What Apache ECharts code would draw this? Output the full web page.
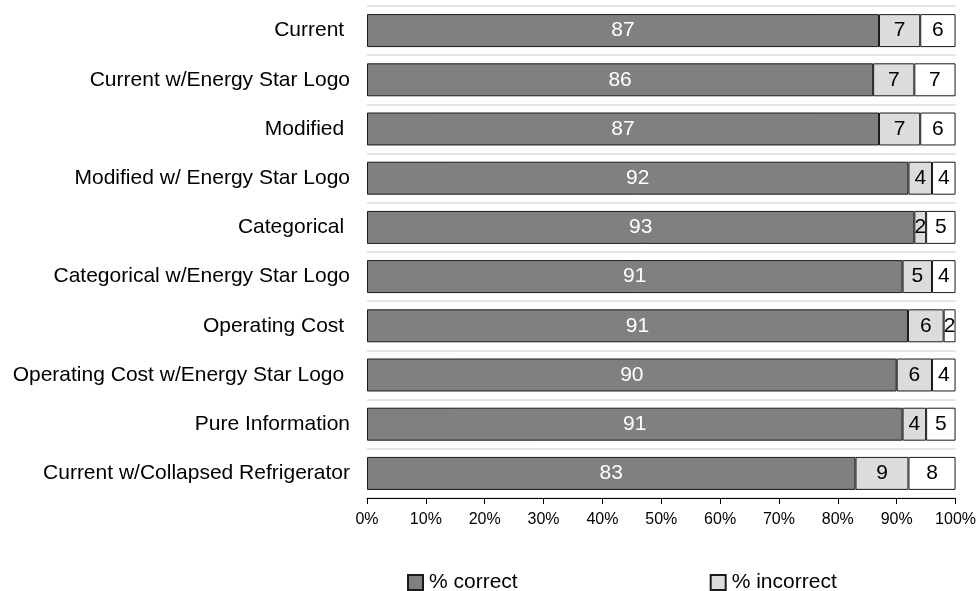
<!DOCTYPE html>
<html>
<head>
<meta charset="utf-8">
<script src="https://cdn.jsdelivr.net/npm/echarts@6/dist/echarts.min.js"></script>
<style>html,body{margin:0;padding:0;background:#fff}#c{width:979px;height:591px}</style>
</head>
<body>
<div id="c"></div>
<script>
var categories = ["Current ", "Current w/Energy Star Logo", "Modified ", "Modified w/ Energy Star Logo", "Categorical ", "Categorical w/Energy Star Logo", "Operating Cost ", "Operating Cost w/Energy Star Logo ", "Pure Information", "Current w/Collapsed Refrigerator"];
var correct   = [87, 86, 87, 92, 93, 91, 91, 90, 91, 83];
var incorrect = [7, 7, 7, 4, 2, 5, 6, 6, 4, 9];
var other     = [6, 7, 6, 4, 5, 4, 2, 4, 5, 8];
var xTicks = [0, 10, 20, 30, 40, 50, 60, 70, 80, 90, 100];

var FONT = "Liberation Sans, Arial, sans-serif";
function pct(arr) {
  return arr.map(function (v, i) { return v / (correct[i] + incorrect[i] + other[i]) * 100; });
}
function mk(name, raw, color, labelColor) {
  return {
    name: name, type: 'bar', stack: 'total', barCategoryGap: '33%',
    data: pct(raw),
    itemStyle: { color: color, borderColor: '#1a1a1a', borderWidth: 1 },
    label: {
      show: true, position: 'inside', color: labelColor, fontSize: 21, fontFamily: FONT,
      formatter: function (p) { return raw[p.dataIndex]; }
    },
    emphasis: { disabled: true },
    animation: false
  };
}
var chart = echarts.init(document.getElementById('c'));
chart.setOption({
  animation: false,
  grid: { left: 367, right: 12, top: 6, bottom: 93, containLabel: false },
  legend: {
    data: ['% correct', '% incorrect'],
    left: 402, top: 567, itemWidth: 15, itemHeight: 15, itemGap: 192,
    icon: 'rect',
    textStyle: { fontSize: 21, fontFamily: FONT, color: '#000', padding: [0, 0, 0, 1] },
    selectedMode: false
  },
  xAxis: {
    type: 'value', min: 0, max: 100, interval: 10,
    axisLine: { show: true, lineStyle: { color: '#000', width: 1 } },
    axisTick: { show: true, length: 6, lineStyle: { color: '#000' } },
    splitLine: { show: false },
    axisLabel: {
      fontSize: 16, fontFamily: FONT, color: '#000', margin: 14,
      formatter: function (v) { return xTicks.indexOf(v) >= 0 ? v + '%' : ''; }
    }
  },
  yAxis: {
    type: 'category', inverse: true, data: categories,
    axisLine: { show: false }, axisTick: { show: false },
    splitLine: { show: true, lineStyle: { color: '#e4e4e4', width: 2 } },
    axisLabel: { fontSize: 21, fontFamily: FONT, color: '#000', margin: 17 }
  },
  series: [
    mk('% correct', correct, '#808080', '#fff'),
    mk('% incorrect', incorrect, '#dcdcdc', '#000'),
    mk('% other', other, '#ffffff', '#000')
  ]
});
</script>
</body>
</html>
